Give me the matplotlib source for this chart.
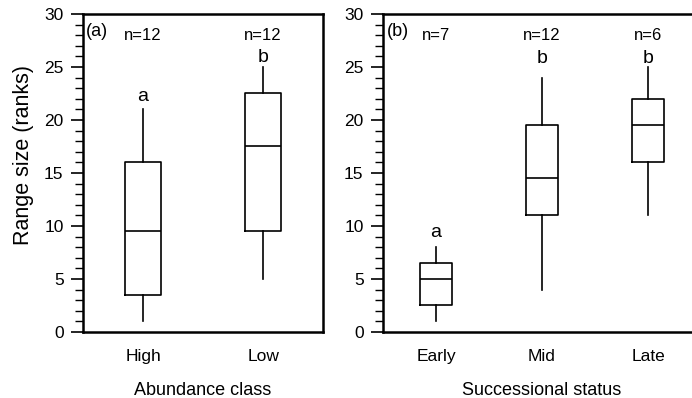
import matplotlib
matplotlib.use('Agg')
import matplotlib.pyplot as plt
from matplotlib.ticker import MultipleLocator

plt.rcParams['font.family'] = ['Liberation Sans', 'DejaVu Sans']

# Panel (a): abundance class
abund_cats = ['High', 'Low']
abund_n = [12, 12]
abund_whislo = [1, 5]
abund_q1 = [3.5, 9.5]
abund_med = [9.5, 17.5]
abund_q3 = [16, 22.5]
abund_whishi = [21, 25]
abund_letters = ['a', 'b']
abund_letter_y = [22.2, 25.9]

# Panel (b): successional status
succ_cats = ['Early', 'Mid', 'Late']
succ_n = [7, 12, 6]
succ_whislo = [1, 4, 11]
succ_q1 = [2.5, 11, 16]
succ_med = [5, 14.5, 19.5]
succ_q3 = [6.5, 19.5, 22]
succ_whishi = [8, 24, 25]
succ_letters = ['a', 'b', 'b']
succ_letter_y = [9.4, 25.8, 25.8]

fig = plt.figure(figsize=(6.92, 3.98), dpi=100)
ax1 = fig.add_axes([0.120, 0.166, 0.347, 0.799])
ax2 = fig.add_axes([0.5535, 0.166, 0.4595, 0.799])

line_kw = dict(color='black', linewidth=1.2)


def draw_panel(ax, cats, n, lo, q1, med, q3, hi, letters, letter_y, tag, xlabel):
    stats = []
    for i in range(len(cats)):
        stats.append(dict(label=cats[i], whislo=lo[i], q1=q1[i], med=med[i],
                          q3=q3[i], whishi=hi[i], fliers=[]))
    pos = list(range(1, len(cats) + 1))
    ax.bxp(stats, positions=pos, widths=0.3, showcaps=False,
           boxprops=line_kw, whiskerprops=line_kw, medianprops=line_kw)
    ax.set_xlim(0.5, len(cats) + 0.5)
    ax.set_ylim(0, 30)
    ax.yaxis.set_major_locator(MultipleLocator(5))
    ax.yaxis.set_minor_locator(MultipleLocator(1))
    ax.tick_params(axis='y', which='major', length=9, width=1.2, labelsize=12.5,
                   direction='out', pad=5)
    ax.tick_params(axis='y', which='minor', length=6, width=1.0, direction='out')
    ax.tick_params(axis='x', length=0, labelsize=12.5, pad=12)
    for s in ax.spines.values():
        s.set_linewidth(1.8)
    for i in range(len(cats)):
        ax.text(pos[i], 28.0, f'n={n[i]}', ha='center', va='center', fontsize=12)
        ax.text(pos[i], letter_y[i], letters[i], ha='center', va='center', fontsize=14)
    ax.annotate(tag, xy=(0.013, 28.3), xycoords=('axes fraction', 'data'),
                ha='left', va='center', fontsize=13)
    ax.set_xlabel(xlabel, fontsize=13, labelpad=13)


draw_panel(ax1, abund_cats, abund_n, abund_whislo, abund_q1, abund_med,
           abund_q3, abund_whishi, abund_letters, abund_letter_y, '(a)',
           'Abundance class')
draw_panel(ax2, succ_cats, succ_n, succ_whislo, succ_q1, succ_med,
           succ_q3, succ_whishi, succ_letters, succ_letter_y, '(b)',
           'Successional status')
ax1.set_ylabel('Range size (ranks)', fontsize=15.5)
ax1.yaxis.set_label_coords(-0.205, 0.557)

fig.savefig('out.png', dpi=100)
